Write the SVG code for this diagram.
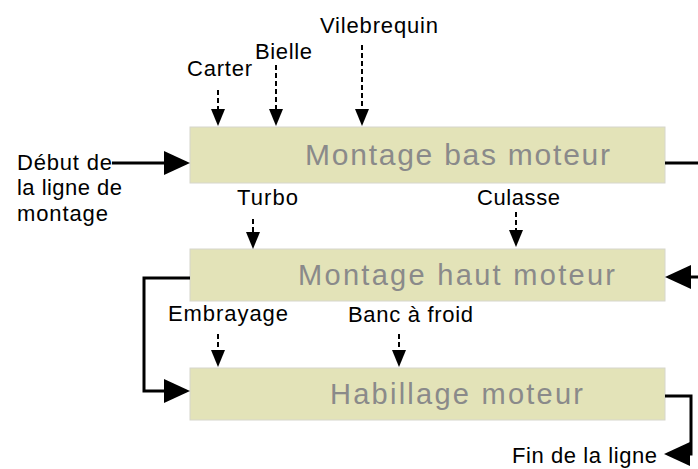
<svg xmlns="http://www.w3.org/2000/svg" width="698" height="469" viewBox="0 0 698 469">
<style>
.box{fill:#e3e3b8;stroke:#d6d6cc;stroke-width:1}
.btxt{font-family:"Liberation Sans",Arial,sans-serif;fill:#8a8a8a}
.lbl{font-family:"Liberation Sans",Arial,sans-serif;font-size:22px;fill:#000}
.solid{fill:none;stroke:#000;stroke-width:3;marker-end:url(#ah)}
.plain{fill:none;stroke:#000;stroke-width:3}
.dash{fill:none;stroke:#000;stroke-width:2;stroke-dasharray:5 3;marker-end:url(#dh)}
</style>
<defs>
<marker id="ah" markerUnits="userSpaceOnUse" markerWidth="26" markerHeight="24" refX="0" refY="12" orient="auto" viewBox="0 0 26 24">
<path d="M0,0 L26,12 L0,24 z" fill="#000"/>
</marker>
<marker id="dh" markerUnits="userSpaceOnUse" markerWidth="17" markerHeight="14" refX="0" refY="7" orient="auto" viewBox="0 0 17 14">
<path d="M0,0 L17,7 L0,14 z" fill="#000"/>
</marker>
</defs>
<rect width="698" height="469" fill="#ffffff"/>
<g id="node-bas">
<rect class="box" x="190" y="127" width="475" height="56"/>
<text class="btxt" x="305" y="165" font-size="30" textLength="305">Montage bas moteur</text>
</g>
<g id="node-haut">
<rect class="box" x="190" y="249" width="475" height="52"/>
<text class="btxt" x="298" y="285" font-size="29" textLength="317">Montage haut moteur</text>
</g>
<g id="node-habillage">
<rect class="box" x="190" y="368" width="475" height="52"/>
<text class="btxt" x="330" y="404" font-size="29" textLength="253">Habillage moteur</text>
</g>
<g id="labels">
<text class="lbl" x="320" y="33" textLength="118">Vilebrequin</text>
<text class="lbl" x="255" y="59" textLength="57">Bielle</text>
<text class="lbl" x="187" y="76" textLength="65">Carter</text>
<text class="lbl" x="17" y="170" textLength="95">Début de</text>
<text class="lbl" x="17" y="195" textLength="105">la ligne de</text>
<text class="lbl" x="17" y="221" textLength="91">montage</text>
<text class="lbl" x="237" y="205" textLength="61">Turbo</text>
<text class="lbl" x="477" y="205" textLength="83">Culasse</text>
<text class="lbl" x="168" y="321" textLength="120">Embrayage</text>
<text class="lbl" x="348" y="322" textLength="125">Banc à froid</text>
<text class="lbl" x="512" y="463" textLength="145">Fin de la ligne</text>
</g>
<g id="connectors">
<path class="solid" d="M112,163 H164"/>
<path class="plain" d="M665,163 H698"/>
<path class="solid" d="M698,277 H691"/>
<path class="solid" d="M190,278 H144 V391 H164"/>
<path class="solid" d="M665,396 H691 V454 H690"/>
<path class="dash" d="M218,90 V109"/>
<path class="dash" d="M276,65 V109"/>
<path class="dash" d="M362,45 V109"/>
<path class="dash" d="M253,219 V232"/>
<path class="dash" d="M516,212 V230"/>
<path class="dash" d="M218,334 V350"/>
<path class="dash" d="M399,334 V350"/>
</g>
</svg>
